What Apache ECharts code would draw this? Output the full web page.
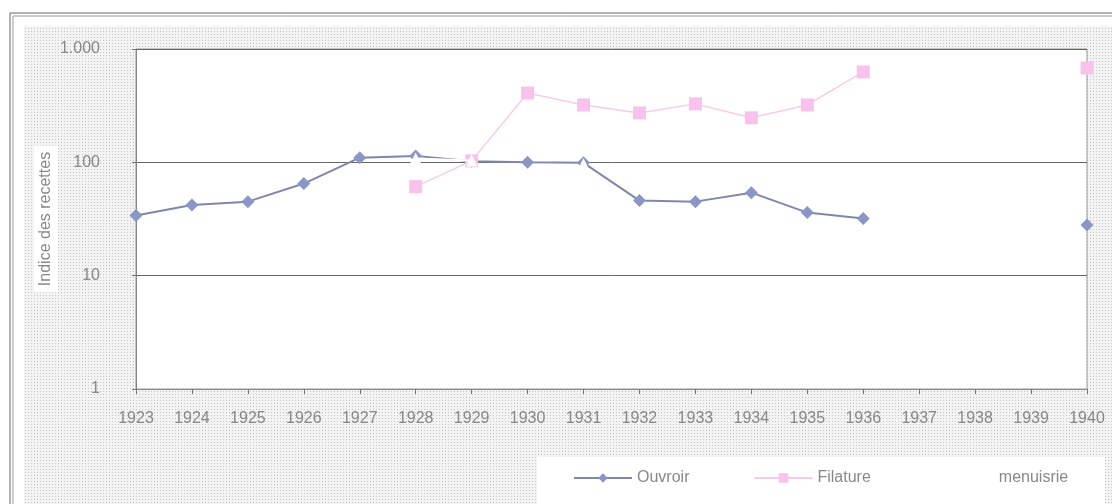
<!DOCTYPE html>
<html>
<head>
<meta charset="utf-8">
<script src="https://cdn.jsdelivr.net/npm/echarts@6/dist/echarts.min.js"></script>
<style>
html, body { margin: 0; padding: 0; background: #fff; }
#chart { width: 1112px; height: 504px; }
</style>
</head>
<body>
<div id="chart"></div>
<script>
// années
var years = ['1923', '1924', '1925', '1926', '1927', '1928', '1929', '1930', '1931',
    '1932', '1933', '1934', '1935', '1936', '1937', '1938', '1939', '1940'];
// indice des recettes (échelle log)
var ouvroir = [34, 42, 45, 65, 110, 114, 102, 100, 99, 46, 45, 54, 36, 32, null, null, null, 28];
var filature = [null, null, null, null, null, 61, 103, 409, 321, 273, 328, 247, 321, 627, null, null, null, 680];
var menuisrie = [null, null, null, null, null, 108, 104, null, 96, null, null, null, null, null, null, null, null, null];
var yTicks = [1, 10, 100, 1000];

// petit motif pointillé pour le fond
function dotPattern() {
    var c = document.createElement('canvas');
    c.width = 3; c.height = 3;
    var ctx = c.getContext('2d');
    ctx.fillStyle = '#f3f3f3';
    ctx.fillRect(0, 0, 3, 3);
    ctx.fillStyle = '#c4c4c4';
    ctx.fillRect(1, 1, 1, 1);
    return c;
}

var myChart = echarts.init(document.getElementById('chart'));
var font = 'Liberation Sans, Arial, sans-serif';

var option = {
    backgroundColor: '#fff',
    animation: false,
    textStyle: { fontFamily: font },
    graphic: [
        {
            type: 'rect', z: -10, silent: true,
            shape: { x: 24, y: 26, width: 1088, height: 478 },
            style: { fill: { image: dotPattern(), repeat: 'repeat' } }
        },
        {
            type: 'rect', z: -9, silent: true,
            shape: { x: 537, y: 457, width: 568, height: 47 },
            style: { fill: '#fff' }
        },
        // cadre double
        { type: 'line', z: 5, silent: true, shape: { x1: 10, y1: 13, x2: 1112, y2: 13 }, style: { stroke: '#666', lineWidth: 1 } },
        { type: 'line', z: 5, silent: true, shape: { x1: 13, y1: 16, x2: 1112, y2: 16 }, style: { stroke: '#999', lineWidth: 1 } },
        { type: 'line', z: 5, silent: true, shape: { x1: 10, y1: 13, x2: 10, y2: 504 }, style: { stroke: '#666', lineWidth: 1 } },
        { type: 'line', z: 5, silent: true, shape: { x1: 13, y1: 16, x2: 13, y2: 504 }, style: { stroke: '#999', lineWidth: 1 } }
    ],
    grid: {
        left: 136, right: 25, top: 49, bottom: 115,
        show: true, backgroundColor: '#fff', borderColor: '#999', borderWidth: 1
    },
    legend: {
        left: 568, top: 465,
        itemWidth: 58, itemHeight: 12, itemGap: 64,
        textStyle: { color: '#888', fontSize: 16, fontFamily: font },
        data: ['Ouvroir', 'Filature', 'menuisrie']
    },
    xAxis: {
        type: 'category',
        data: years,
        boundaryGap: false,
        axisLine: { lineStyle: { color: '#888' } },
        axisTick: { show: true, length: 5, inside: false, lineStyle: { color: '#777' } },
        axisLabel: { color: '#888', fontSize: 16, margin: 22, interval: 0 },
        splitLine: { show: false }
    },
    yAxis: {
        type: 'log',
        logBase: 10,
        min: yTicks[0],
        max: yTicks[yTicks.length - 1],
        name: 'Indice des recettes',
        nameLocation: 'middle',
        nameRotate: 90,
        nameGap: 78,
        nameMoveOverlap: false,
        nameTextStyle: { color: '#888', fontSize: 16, backgroundColor: '#fff', padding: [4, 6] },
        axisLine: { show: true, lineStyle: { color: '#777', type: 'dotted' } },
        axisTick: { show: true, length: 4, lineStyle: { color: '#777' } },
        axisLabel: {
            color: '#888', fontSize: 16, margin: 36,
            formatter: function (v) { return v >= 1000 ? '1.000' : String(v); }
        },
        splitLine: { show: true, lineStyle: { color: '#666', width: 1 } }
    },
    series: [
        {
            name: 'Ouvroir', type: 'line', data: ouvroir,
            symbol: 'diamond', symbolSize: 13,
            itemStyle: { color: '#8a96c6' },
            lineStyle: { color: '#7e88a8', width: 2 },
            connectNulls: false, z: 3
        },
        {
            name: 'Filature', type: 'line', data: filature,
            symbol: 'rect', symbolSize: 13,
            itemStyle: { color: '#f8c2ec' },
            lineStyle: { color: '#f6cbe9', width: 1.5 },
            connectNulls: false, z: 4
        },
        {
            name: 'menuisrie', type: 'line', data: menuisrie,
            symbol: 'triangle', symbolSize: 12,
            itemStyle: { color: '#fff' },
            lineStyle: { color: '#fff', width: 2 },
            connectNulls: false, z: 5
        }
    ]
};

myChart.setOption(option);
</script>
</body>
</html>
